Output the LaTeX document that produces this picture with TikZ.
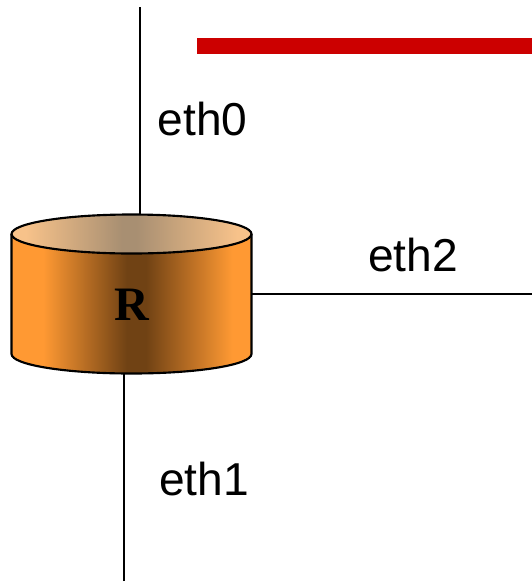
\documentclass[tikz,border=0pt]{standalone}
\usepackage{fontspec}
\setmainfont{Liberation Sans}
\newfontfamily\routerfont{Liberation Serif}
\definecolor{barred}{HTML}{CC0000}
\definecolor{bodyend}{HTML}{FF9933}
\definecolor{bodymid}{HTML}{704214}
\definecolor{lidend}{HTML}{F7C28A}
\definecolor{lidmid}{HTML}{A88F72}
\pgfdeclarehorizontalshading{bodyshade}{100bp}{
  color(0bp)=(bodyend);
  color(31.6bp)=(bodyend);
  color(49bp)=(bodymid);
  color(53bp)=(bodymid);
  color(71bp)=(bodyend);
  color(100bp)=(bodyend)}
\pgfdeclarehorizontalshading{lidshade}{100bp}{
  color(0bp)=(lidend);
  color(28bp)=(lidend);
  color(48bp)=(lidmid);
  color(51bp)=(lidmid);
  color(72bp)=(lidend);
  color(100bp)=(lidend)}
\tikzset{
  link/.style={line width=1.4pt},
  rim/.style={line width=1.6pt},
  ethlabel/.style={font=\fontsize{34.6}{34.6}\selectfont},
}
\begin{document}
\begin{tikzpicture}[x=0.75pt,y=-0.75pt]
\useasboundingbox (0,0) rectangle (532,583);
\coordinate (topend) at (140,7);
\coordinate (bottomend) at (124,581);
\coordinate (rightend) at (532,294);
\coordinate (routertop) at (140,215);
\coordinate (routerbottom) at (124,374);
\coordinate (routerright) at (252,294);
\draw [link](topend) -- (routertop);
\draw [link](bottomend) -- (routerbottom);
\draw [link](rightend) -- (routerright);
% router body
\shade [shading=bodyshade](11.5,234) -- (11.5,354) arc (180:0:120 and 19.5) -- (251.5,234) -- cycle;
\shade [shading=lidshade](131.5,234) ellipse (120 and 19.5);
\draw [rim](11.5,234) -- (11.5,354) arc (180:0:120 and 19.5) -- (251.5,234);
\draw [rim](131.5,234) ellipse (120 and 19.5);
\fill [barred](197,38) rectangle (532,54);
\node (router) at (131.5,304.5) {\routerfont\bfseries\fontsize{36}{36}\selectfont R};
\node [ethlabel] (eth0) at (202.5,119) {eth0};
\node [ethlabel] (eth1) at (204,479) {eth1};
\node [ethlabel] (eth2) at (413,255) {eth2};
\end{tikzpicture}
\end{document}
